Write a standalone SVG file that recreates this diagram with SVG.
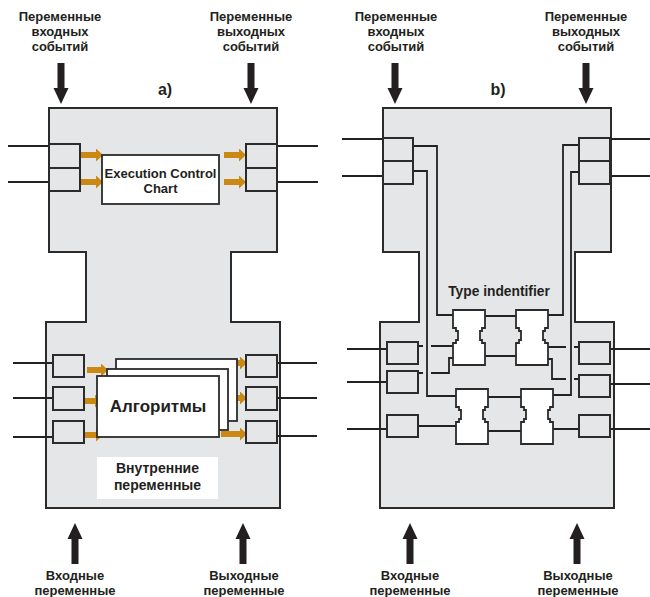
<svg xmlns="http://www.w3.org/2000/svg" width="650" height="597" viewBox="0 0 650 597">
<defs>
<style>
.panel{fill:#e5e6e8;stroke:#2b2b2b;stroke-width:2}
.box{fill:#e5e6e8;stroke:#2b2b2b;stroke-width:2}
.wbox{fill:#fff;stroke:#2b2b2b;stroke-width:1.8}
.w{fill:none;stroke:#222;stroke-width:1.8}
.oa{stroke:#c98912;stroke-width:6;fill:none;marker-end:url(#oh)}
.big{fill:#231f20}
.t{font-family:"Liberation Sans",Arial,sans-serif;font-weight:bold;fill:#231f20;text-anchor:middle}
.lab{font-size:13px}
</style>
<marker id="oh" viewBox="0 0 7 13" refX="0" refY="6.5" markerWidth="7" markerHeight="13" markerUnits="userSpaceOnUse" orient="auto">
<path d="M0,0 L7,6.5 L0,13 Z" fill="#c98912"/>
</marker>
<path id="down" d="M-3.5,0 H3.5 V25 H7.5 L0,41 L-7.5,25 H-3.5 Z"/>
<path id="up" d="M-3.5,41 H3.5 V16 H7.5 L0,0 L-7.5,16 H-3.5 Z"/>
<path id="chip" d="M0,0 H32 V18 H29 V21 H27 V30 H29 V33 H32 V55 H0 V33 H3 V30 H5 V21 H3 V18 H0 Z"/>
</defs>

<!-- ========== Panel a ========== -->
<g id="a-labels">
<text class="t lab" x="60" y="21">Переменные</text>
<text class="t lab" x="60" y="36">входных</text>
<text class="t lab" x="60" y="51">событий</text>
<text class="t lab" x="251" y="21">Переменные</text>
<text class="t lab" x="251" y="36">выходных</text>
<text class="t lab" x="251" y="51">событий</text>
<text class="t" x="165" y="95" font-size="16">a)</text>
<text class="t lab" x="75" y="580">Входные</text>
<text class="t lab" x="75" y="595">переменные</text>
<text class="t lab" x="244" y="580">Выходные</text>
<text class="t lab" x="244" y="595">переменные</text>
</g>
<g id="a-big-arrows" class="big">
<use href="#down" x="61" y="63"/>
<use href="#down" x="251" y="63"/>
<use href="#up" x="75" y="523"/>
<use href="#up" x="243" y="523"/>
</g>
<g id="a-block">
<path class="panel" d="M49,108 H277 V252 H231 V322 H280 V508 H46 V322 H86 V252 H49 Z"/>
</g>
<g id="a-connectors">
<path class="w" d="M8,146 H49 M8,182 H49 M277,146 H318 M277,182 H318"/>
<path class="w" d="M13,363 H53 M13,398 H53 M13,437 H53 M277,363 H317 M277,398 H317 M277,436 H317"/>
<line class="oa" x1="81" y1="155" x2="96" y2="155"/>
<line class="oa" x1="81" y1="182" x2="96" y2="182"/>
<line class="oa" x1="224" y1="155" x2="239" y2="155"/>
<line class="oa" x1="224" y1="182" x2="239" y2="182"/>
<line class="oa" x1="87" y1="370" x2="101" y2="370"/>
<line class="oa" x1="80" y1="401" x2="95" y2="401"/>
<line class="oa" x1="82" y1="435" x2="96" y2="435"/>
<line class="oa" x1="226" y1="363" x2="240" y2="363"/>
<line class="oa" x1="226" y1="398" x2="240" y2="398"/>
<line class="oa" x1="221" y1="434" x2="240" y2="434"/>
</g>
<g id="a-event-in">
<rect class="box" x="49" y="144" width="31" height="24"/>
<rect class="box" x="49" y="168" width="31" height="23"/>
</g>
<g id="a-event-out">
<rect class="box" x="246" y="144" width="31" height="24"/>
<rect class="box" x="246" y="168" width="31" height="23"/>
</g>
<g id="a-ecc">
<rect class="wbox" x="102" y="155" width="117" height="49"/>
<text class="t" x="160.5" y="178" font-size="13">Execution Control</text>
<text class="t" x="160.5" y="193" font-size="13">Chart</text>
</g>
<g id="a-var-in">
<rect class="box" x="53" y="355" width="31" height="22"/>
<rect class="box" x="53" y="387" width="31" height="23"/>
<rect class="box" x="53" y="421" width="31" height="22"/>
</g>
<g id="a-var-out">
<rect class="box" x="246" y="355" width="31" height="22"/>
<rect class="box" x="246" y="387" width="31" height="23"/>
<rect class="box" x="246" y="421" width="31" height="22"/>
</g>
<g id="a-algorithms">
<rect class="wbox" x="116" y="359" width="121" height="62"/>
<rect class="wbox" x="107" y="369" width="121" height="61"/>
<rect class="wbox" x="97" y="376" width="122" height="61"/>
<text class="t" x="158" y="412" font-size="17">Алгоритмы</text>
</g>
<g id="a-internal">
<rect x="97" y="457" width="121" height="42" fill="#fff"/>
<text class="t" x="157.5" y="473" font-size="14">Внутренние</text>
<text class="t" x="157.5" y="490" font-size="14">переменные</text>
</g>

<!-- ========== Panel b ========== -->
<g id="b-labels">
<text class="t lab" x="396" y="21">Переменные</text>
<text class="t lab" x="396" y="36">входных</text>
<text class="t lab" x="396" y="51">событий</text>
<text class="t lab" x="586" y="21">Переменные</text>
<text class="t lab" x="586" y="36">выходных</text>
<text class="t lab" x="586" y="51">событий</text>
<text class="t" x="498" y="95" font-size="16">b)</text>
<text class="t lab" x="410" y="580">Входные</text>
<text class="t lab" x="410" y="595">переменные</text>
<text class="t lab" x="578" y="580">Выходные</text>
<text class="t lab" x="578" y="595">переменные</text>
</g>
<g id="b-big-arrows" class="big">
<use href="#down" x="395" y="63"/>
<use href="#down" x="586" y="63"/>
<use href="#up" x="410" y="523"/>
<use href="#up" x="577" y="523"/>
</g>
<g id="b-block">
<path class="panel" d="M383,108 H611 V252 H575 V322 H614 V508 H380 V322 H419 V252 H383 Z"/>
<text class="t" x="499" y="296" font-size="13.8">Type indentifier</text>
</g>
<g id="b-connectors">
<path class="w" d="M342,139 H383 M342,176 H383 M610,139 H650 M610,176 H650"/>
<path class="w" d="M347,349 H387 M347,382 H387 M347,429 H387 M610,349 H650 M610,384 H650 M610,429 H650"/>
<path class="w" d="M413,146 H437 V315 H453 M413,171 H427 V396 H456"/>
<path class="w" d="M579,145 H563 V315 H548 M579,172 H571 V395 H553"/>
<path class="w" d="M485,316 H516 M485,356 H516 M487,397 H522 M487,431 H522"/>
<path class="w" d="M418,346 H423 M431,346 H453 M418,373 H423 M431,373 H449 V358 H453 M418,426 H456"/>
<path class="w" d="M548,347 H566 M574,347 H579 M548,359 H552 V379 H566 M574,379 H579 M553,429 H579"/>
</g>
<g id="b-event-in">
<rect class="box" x="383" y="138" width="30" height="23"/>
<rect class="box" x="383" y="161" width="30" height="23"/>
</g>
<g id="b-event-out">
<rect class="box" x="579" y="138" width="31" height="23"/>
<rect class="box" x="579" y="161" width="31" height="23"/>
</g>
<g id="b-var-in">
<rect class="box" x="387" y="342" width="31" height="22"/>
<rect class="box" x="387" y="371" width="31" height="22"/>
<rect class="box" x="387" y="415" width="31" height="22"/>
</g>
<g id="b-var-out">
<rect class="box" x="579" y="342" width="31" height="22"/>
<rect class="box" x="579" y="375" width="31" height="22"/>
<rect class="box" x="579" y="415" width="31" height="22"/>
</g>
<g id="b-type-ids">
<use href="#chip" x="453" y="310" class="wbox"/>
<use href="#chip" x="516" y="310" class="wbox"/>
<use href="#chip" x="456" y="389" class="wbox"/>
<use href="#chip" x="521" y="389" class="wbox"/>
</g>
</svg>
